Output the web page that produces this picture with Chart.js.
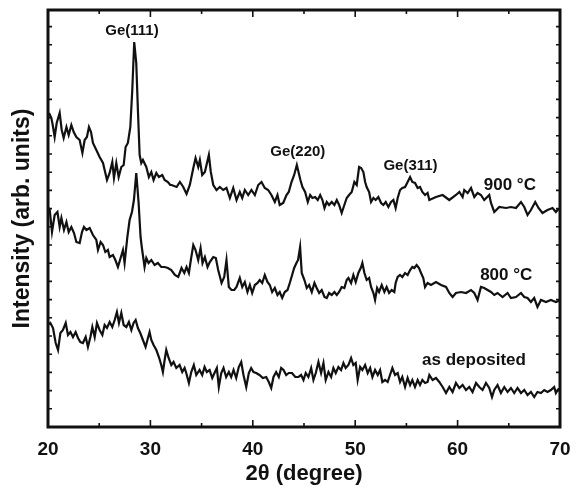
<!DOCTYPE html>
<html>
<head>
<meta charset="utf-8">
<script src="https://cdn.jsdelivr.net/npm/chart.js@4.4.1/dist/chart.umd.min.js"></script>
<style>
  html, body { margin: 0; padding: 0; background: #fff; }
  #wrap { width: 579px; height: 487px; }
</style>
</head>
<body>
<div id="wrap"><canvas id="xrdChart"></canvas></div>
<script>
// XRD patterns, 2theta in degree, intensity in arbitrary units (curves offset)
const angle900 = [20.10,20.33,20.46,20.65,20.85,21.14,21.34,21.53,21.80,22.02,22.28,22.51,22.77,23.09,23.36,23.58,23.80,24.00,24.20,24.39,24.72,25.04,25.37,25.76,26.02,26.28,26.44,26.67,26.90,27.16,27.39,27.58,27.80,28.04,28.23,28.42,28.62,28.78,28.95,29.11,29.27,29.60,29.85,30.09,30.31,30.58,30.83,31.16,31.39,31.71,31.94,
  32.07,32.56,32.88,33.21,33.53,33.85,34.19,34.41,34.67,34.83,35.06,35.32,35.48,35.71,35.90,36.14,36.46,36.78,37.11,37.43,37.76,38.09,38.41,38.73,38.97,39.22,39.55,39.87,40.20,40.53,40.85,41.17,41.50,41.82,42.15,42.41,42.63,42.97,43.29,43.51,43.78,44.04,44.30,
  44.65,44.85,45.11,45.37,45.60,45.82,46.09,46.34,46.58,46.80,47.00,47.22,47.45,47.71,47.97,48.20,48.43,48.68,48.94,49.17,49.40,49.66,49.92,50.15,50.38,50.58,50.80,50.97,51.12,51.36,51.55,51.78,52.00,52.26,52.53,52.75,52.98,53.24,53.50,53.73,53.95,54.15,54.38,54.60,54.87,55.12,55.36,55.58,55.84,56.10,56.33,56.56,56.82,57.07,
  57.24,57.89,58.54,59.19,59.84,60.17,60.49,60.65,60.98,61.31,61.63,61.95,62.28,62.60,63.09,63.26,63.58,64.07,64.72,65.21,65.70,66.19,66.51,66.83,67.16,67.58,67.90,68.29,68.78,69.27,69.60,69.85,70.00];
const counts900 = [314,309,302,290,304,314,297,289,300,292,302,295,290,287,274,287,290,300,295,284,277,270,264,247,254,265,249,264,250,260,262,280,284,300,337,385,364,317,272,264,267,260,250,255,247,254,250,252,247,245,242,
  242,240,245,240,233,242,259,269,260,267,252,255,262,272,255,242,237,240,237,239,229,239,227,235,229,237,232,237,232,242,245,239,237,232,225,232,222,224,232,235,245,252,262,
  247,240,235,225,232,229,230,227,232,227,219,225,222,225,222,227,222,214,222,229,232,235,245,242,260,259,255,245,240,235,225,229,227,230,224,222,225,220,225,227,219,229,237,239,240,245,250,245,244,239,240,235,232,234,
  227,230,232,227,232,235,230,237,234,239,230,234,232,227,232,224,215,220,219,220,219,225,220,212,217,225,219,214,217,219,215,218,218];

const angle800 = [20.00,20.17,20.39,20.65,20.92,21.14,21.31,21.56,21.80,22.02,22.28,22.54,22.77,23.09,23.32,23.51,23.75,24.07,24.39,24.72,24.88,25.14,25.37,25.60,25.85,26.02,26.34,26.58,26.83,27.09,27.32,27.48,27.75,27.97,28.20,28.39,28.62,28.85,29.04,29.17,29.43,29.60,29.82,30.09,30.41,30.73,31.06,31.39,31.71,32.04,
  32.39,32.72,33.04,33.31,33.53,33.76,33.95,34.19,34.41,34.67,34.90,35.09,35.32,35.58,35.80,36.14,36.39,36.62,36.95,37.21,37.43,37.66,37.92,38.19,38.41,38.73,38.97,39.22,39.48,39.71,39.94,40.20,40.46,40.68,40.92,41.17,41.43,41.66,41.89,42.15,42.41,42.63,42.87,43.12,43.39,43.61,43.84,44.04,44.26,44.42,44.62,
  44.78,45.04,45.27,45.50,45.76,46.02,46.24,46.48,46.73,47.00,47.22,47.45,47.71,47.97,48.20,48.43,48.68,48.94,49.17,49.34,49.60,49.82,50.05,50.31,50.58,50.70,50.90,51.12,51.36,51.55,51.78,51.94,52.14,52.33,52.59,52.85,53.07,53.31,53.56,53.82,53.95,54.15,54.38,54.60,54.87,55.12,55.36,55.58,55.77,56.00,56.23,56.43,56.65,56.82,57.07,
  57.40,57.89,58.38,58.87,59.19,59.51,59.84,60.33,60.82,61.31,61.63,61.95,62.28,62.60,62.93,63.26,63.58,63.90,64.39,64.88,65.21,65.70,66.19,66.51,66.83,67.16,67.48,67.80,68.14,68.63,69.11,69.60,69.85,70.00];
const counts800 = [220,217,195,212,215,200,209,197,205,195,200,194,185,184,195,200,197,199,192,187,177,185,182,175,177,170,172,167,160,169,177,164,190,207,215,227,254,224,190,179,160,169,164,167,162,164,160,160,159,157,
  152,150,159,154,160,154,167,182,177,167,179,164,170,160,165,170,169,157,144,150,167,140,137,137,140,149,140,145,135,142,134,142,144,147,144,152,145,142,135,139,132,135,129,135,137,144,152,159,164,167,180,
  154,147,139,142,135,144,139,134,137,130,129,134,132,135,132,135,140,139,147,149,144,152,145,154,160,164,154,147,149,140,134,127,139,135,142,135,140,134,137,135,144,150,152,150,154,152,157,160,159,162,159,154,149,140,144,
  142,145,142,140,134,130,134,135,134,137,134,127,140,139,137,135,132,134,130,134,129,130,134,130,129,125,129,120,127,125,127,125,126,126];

const angleAsDep = [20.00,20.23,20.49,20.75,20.98,21.21,21.46,21.73,21.95,22.19,22.44,22.70,22.93,23.16,23.41,23.68,23.90,24.14,24.33,24.56,24.78,25.04,25.31,25.53,25.76,26.02,26.28,26.51,26.73,26.93,27.16,27.39,27.65,27.90,28.14,28.36,28.56,28.78,29.01,29.27,29.53,29.76,29.92,30.09,30.31,30.58,30.83,31.06,31.22,31.39,31.55,31.78,32.04,32.26,32.53,32.85,33.11,33.34,33.50,33.76,33.99,34.24,34.48,34.80,35.06,35.29,35.51,35.78,36.04,36.26,36.49,36.68,36.92,37.14,37.40,37.66,37.89,38.12,38.38,38.63,38.87,39.09,39.36,39.61,39.84,40.07,40.33,40.65,40.98,41.31,41.56,41.80,42.02,42.28,42.54,42.77,43.00,43.26,43.51,43.83,44.15,
  44.46,44.72,44.95,45.17,45.43,45.70,45.92,46.15,46.41,46.67,46.90,47.12,47.39,47.65,47.87,48.10,48.36,48.62,48.85,49.07,49.34,49.60,49.82,50.05,50.24,50.48,50.70,50.97,51.22,51.46,51.68,51.94,52.20,52.43,52.65,52.92,53.17,53.40,53.63,53.89,54.15,54.38,54.60,54.87,55.12,55.36,55.58,55.84,56.10,56.33,56.56,56.82,
  57.07,57.24,57.56,57.89,58.21,58.54,58.87,59.19,59.51,59.84,60.17,60.49,60.82,61.14,61.46,61.80,62.12,62.44,62.77,63.09,63.36,63.58,63.90,64.23,64.56,64.88,65.21,65.53,65.85,66.19,66.51,66.83,67.16,67.48,67.80,68.14,68.46,68.78,69.11,69.43,69.60,69.85,70.00];
const countsAsDep = [102,104,99,84,77,94,97,104,92,95,90,95,89,85,84,90,80,90,100,90,104,97,92,102,99,105,100,107,115,104,114,102,100,105,97,104,107,99,94,87,80,89,95,87,82,77,70,62,55,67,77,69,62,65,59,62,55,59,54,44,55,62,52,57,52,60,55,57,49,54,59,40,54,59,50,55,50,57,49,60,65,52,40,54,59,55,54,52,49,50,45,39,50,55,50,59,57,52,54,54,50,
  50,52,47,54,50,59,47,54,65,54,64,47,55,50,59,54,60,57,64,59,62,69,62,64,47,60,57,62,54,59,50,57,52,57,45,47,45,52,59,52,54,45,50,40,49,42,47,40,47,42,47,44,
  45,52,47,49,45,40,34,40,35,44,39,42,37,40,35,44,40,37,44,39,30,37,42,34,40,35,39,34,39,34,37,32,35,30,35,34,37,35,37,40,34,38,38];

const xTicksMajor = [20, 30, 40, 50, 60, 70];

const labelTexts = ['Ge(111)', 'Ge(220)', 'Ge(311)', '900 \u00B0C', '800 \u00B0C', 'as deposited'];
const labelAngles = [28.2, 44.4, 55.4, 65.1, 64.75, 61.6];
const labelCounts = [396, 275, 261, 242, 152, 67];
const labelSizes = [15, 15, 15, 17, 17, 17];

function toPoints(xs, ys) {
  return xs.map((x, i) => ({ x: x, y: ys[i] }));
}

// frame + inward ticks like the original plot
const frameTicks = {
  id: 'frameTicks',
  afterDraw(chart) {
    const ctx = chart.ctx;
    const a = chart.chartArea;
    const xs = chart.scales.x, ys = chart.scales.y;
    ctx.save();
    ctx.strokeStyle = '#111';
    ctx.lineWidth = 1.6;
    xs.ticks.forEach(t => {
      const px = xs.getPixelForValue(t.value);
      const len = xTicksMajor.includes(t.value) ? 7 : 4;
      ctx.beginPath();
      ctx.moveTo(px, a.bottom); ctx.lineTo(px, a.bottom - len);
      ctx.moveTo(px, a.top); ctx.lineTo(px, a.top + len);
      ctx.stroke();
    });
    ys.ticks.forEach(t => {
      const py = ys.getPixelForValue(t.value);
      ctx.beginPath();
      ctx.moveTo(a.left, py); ctx.lineTo(a.left + 4, py);
      ctx.moveTo(a.right, py); ctx.lineTo(a.right - 4, py);
      ctx.stroke();
    });
    ctx.lineWidth = 3;
    ctx.strokeRect(a.left, a.top, a.right - a.left, a.bottom - a.top);
    ctx.restore();
  }
};

const peakLabels = {
  id: 'peakLabels',
  afterDatasetsDraw(chart) {
    const ctx = chart.ctx;
    const xs = chart.scales.x, ys = chart.scales.y;
    ctx.save();
    ctx.fillStyle = '#111';
    ctx.textAlign = 'center';
    ctx.textBaseline = 'middle';
    labelTexts.forEach((txt, i) => {
      ctx.font = 'bold ' + labelSizes[i] + 'px "Liberation Sans", Arial, sans-serif';
      ctx.fillText(txt, xs.getPixelForValue(labelAngles[i]), ys.getPixelForValue(labelCounts[i]));
    });
    ctx.restore();
  }
};

function line(xs, ys) {
  return {
    data: toPoints(xs, ys),
    borderColor: '#111',
    borderWidth: 2.2,
    pointRadius: 0,
    tension: 0,
    fill: false
  };
}

const ctx = document.getElementById('xrdChart').getContext('2d');
new Chart(ctx, {
  type: 'line',
  data: {
    datasets: [
      line(angle900, counts900),
      line(angle800, counts800),
      line(angleAsDep, countsAsDep)
    ]
  },
  options: {
    responsive: true,
    maintainAspectRatio: false,
    animation: false,
    layout: { padding: { top: 10, right: 19, left: 0, bottom: 0 } },
    plugins: { legend: { display: false }, tooltip: { enabled: false } },
    scales: {
      x: {
        type: 'linear',
        min: 20, max: 70,
        grid: { display: false },
        border: { display: false },
        ticks: {
          stepSize: 5,
          padding: 3,
          color: '#111',
          font: { family: '"Liberation Sans", Arial, sans-serif', size: 19, weight: 'bold' },
          callback: v => (v % 10 === 0 ? v : '')
        },
        title: {
          display: true,
          text: '2\u03B8 (degree)',
          color: '#111',
          padding: { top: 0, bottom: 0 },
          font: { family: '"Liberation Sans", Arial, sans-serif', size: 22, weight: 'bold' }
        },
        afterFit(scale) { scale.height = 60; }
      },
      y: {
        min: 0, max: 417,
        grid: { display: false },
        border: { display: false },
        ticks: { display: false, stepSize: 18.2 },
        title: {
          display: true,
          text: 'Intensity (arb. units)',
          color: '#111',
          padding: { top: 9, bottom: 0 },
          font: { family: '"Liberation Sans", Arial, sans-serif', size: 23, weight: 'bold' }
        },
        afterFit(scale) { scale.width = 48; }
      }
    }
  },
  plugins: [frameTicks, peakLabels]
});
</script>
</body>
</html>
